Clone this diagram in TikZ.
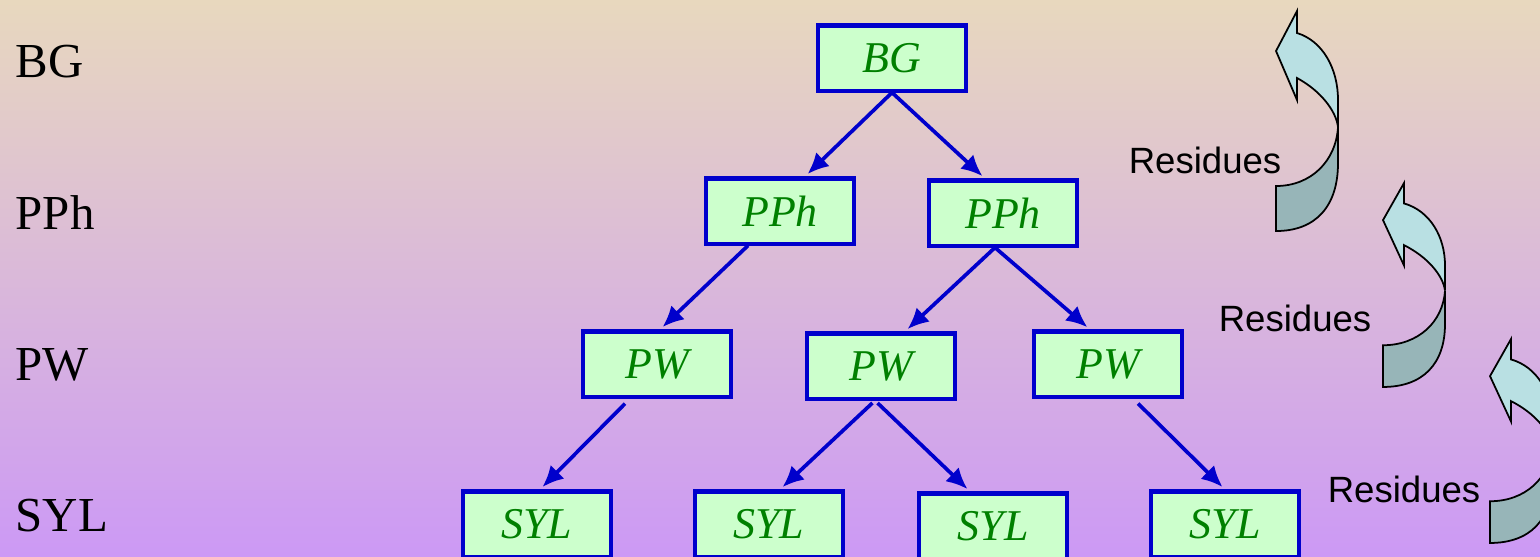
\documentclass[tikz,border=0pt]{standalone}
\usepackage{fontspec}
\setmainfont{Liberation Serif}
\newfontfamily\arialfont{Liberation Sans}
\usetikzlibrary{arrows.meta}

\definecolor{bgtop}{RGB}{232,216,190}
\definecolor{bgbottom}{RGB}{204,153,245}
\definecolor{boxfill}{RGB}{204,255,204}
\definecolor{boxline}{RGB}{0,0,204}
\definecolor{boxtext}{RGB}{0,128,0}
\definecolor{arrowlight}{RGB}{185,224,227}
\definecolor{arrowdark}{RGB}{151,181,184}

\tikzset{
  unit/.style={draw=boxline, line width=1.15pt, fill=boxfill, text=boxtext,
    minimum width=1.48cm, minimum height=0.65cm, inner sep=0pt,
    font=\fontsize{12.5}{15}\selectfont\itshape},
  level/.style={anchor=base west, inner sep=0pt, font=\fontsize{13.9}{16}\selectfont},
  residue/.style={font=\arialfont\fontsize{10.4}{12}\selectfont},
  link/.style={draw=boxline, line width=1.05pt, -{Latex[length=6pt,width=5.5pt]}, shorten >=1pt}
}

% curved ribbon arrow, drawn in its own little frame
\newcommand{\residuearrow}{%
  \filldraw[fill=arrowlight, line width=0.5pt, line join=miter]
    (21,0) -- (0,40) -- (21,89) -- (21,67)
    .. controls (45,80) and (60,100) .. (62,116) -- (62,89)
    .. controls (62,58) and (47,30) .. (21,22) -- cycle;
  \filldraw[fill=arrowdark, line width=0.5pt, line join=miter]
    (62,116) .. controls (60,150) and (35,175) .. (0,175) -- (0,220)
    .. controls (40,220) and (62,195) .. (62,152) -- cycle;
}

\begin{document}
\begin{tikzpicture}[x=0.01cm, y=-0.01cm]
  \clip (0,0) rectangle (1540,556);
  \shade[top color=bgtop, bottom color=bgbottom] (0,0) rectangle (1540,556);

  % level names
  \node[level] at (15,77) (lbg) {BG};
  \node[level] at (15,229) (lpph) {PPh};
  \node[level] at (15,380) (lpw) {PW};
  \node[level] at (15,531) (lsyl) {SYL};

  % tree
  \node[unit] at (892,58) (bg) {BG};
  \node[unit] at (780,211) (ppha) {PPh};
  \node[unit] at (1003,213) (pphb) {PPh};
  \node[unit] at (657,364) (pwa) {PW};
  \node[unit] at (881,366) (pwb) {PW};
  \node[unit] at (1108,364) (pwc) {PW};
  \node[unit] at (537,524) (sya) {SYL};
  \node[unit] at (769,524) (syb) {SYL};
  \node[unit] at (993,526) (syc) {SYL};
  \node[unit] at (1225,524) (syd) {SYL};

  \draw[link] (bg.south) -- ([xshift=0.25cm]ppha.north);
  \draw[link] (bg.south) -- ([xshift=-0.18cm]pphb.north);
  \draw[link] ([xshift=-0.32cm]ppha.south) -- ([xshift=0.03cm]pwa.north);
  \draw[link] ([xshift=-0.08cm]pphb.south) -- ([xshift=0.24cm]pwb.north);
  \draw[link] ([xshift=-0.08cm]pphb.south) -- ([xshift=-0.18cm]pwc.north);
  \draw[link, shorten <=2pt] ([xshift=-0.27cm]pwa.south) -- ([xshift=0.03cm]sya.north);
  \draw[link, shorten <=1pt] ([xshift=-0.06cm]pwb.south) -- ([xshift=0.11cm]syb.north);
  \draw[link, shorten <=1pt] ([xshift=-0.06cm]pwb.south) -- ([xshift=-0.23cm]syc.north);
  \draw[link, shorten <=2pt] ([xshift=0.25cm]pwc.south) -- (syd.north);

  % residues
  \begin{scope}[shift={(1276,11)}]
    \residuearrow
  \end{scope}
  \begin{scope}[shift={(1383,183)}, yscale=0.927]
    \residuearrow
  \end{scope}
  \begin{scope}[shift={(1490,339)}, yscale=0.927]
    \residuearrow
  \end{scope}
  \node[residue] at (1205,160) (res1) {Residues};
  \node[residue] at (1295,318) (res2) {Residues};
  \node[residue] at (1404,489) (res3) {Residues};
\end{tikzpicture}
\end{document}
